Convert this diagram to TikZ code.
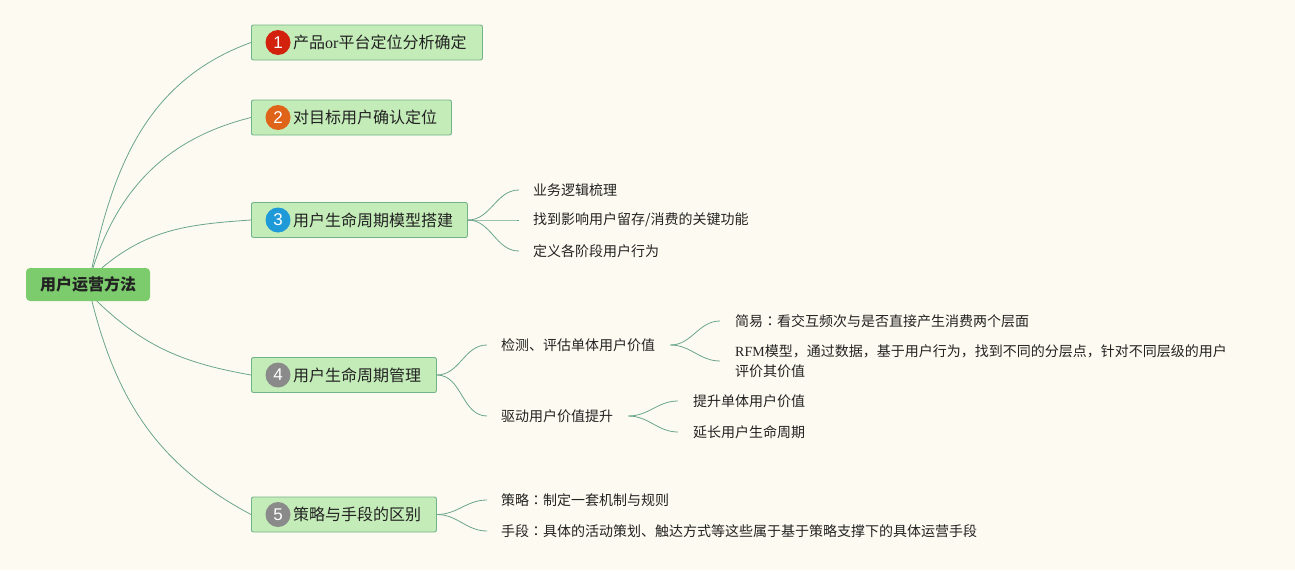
\documentclass[tikz,border=0pt]{standalone}
\usepackage{fontspec}
\setmainfont{Noto Sans CJK SC}
\newfontfamily\tcfont{Noto Sans CJK TC}
\newfontfamily\rmlatin{Liberation Serif}
\newfontfamily\numfont{Liberation Sans}
\newcommand\fcolon{{\tcfont ：}}
\definecolor{bg}{HTML}{FDFBF1}
\definecolor{ink}{HTML}{222222}
\definecolor{boxfill}{HTML}{C4ECB8}
\definecolor{boxline}{HTML}{72B38A}
\definecolor{rootfill}{HTML}{7CCB6C}
\definecolor{linkc}{HTML}{6AA58B}
\definecolor{red1}{HTML}{D2220E}
\definecolor{orange1}{HTML}{E0631A}
\definecolor{blue1}{HTML}{1E9AD8}
\definecolor{gray1}{HTML}{8A8A8A}
\tikzset{
  topic/.style={draw=boxline, fill=boxfill, line width=0.9pt, rounded corners=2pt, minimum height=35pt, anchor=west, inner sep=0pt},
  badge/.style={circle, fill=#1, minimum size=25pt, inner sep=0pt, text=white, font=\numfont\fontsize{17}{17}\selectfont},
  tlabel/.style={anchor=west, inner sep=0pt, text=ink, font=\fontsize{16}{19}\selectfont},
  leaf/.style={anchor=west, inner sep=0pt, text=ink, align=left, font=\fontsize{14}{20}\selectfont},
  link/.style={draw=linkc, line width=0.8pt},
}
\begin{document}
\begin{tikzpicture}[x=1pt,y=-1pt]
\fill[bg] (0,0) rectangle (1295,570);
% root
\node[fill=rootfill, rounded corners=4pt, minimum width=124pt, minimum height=33pt, text=ink, font=\bfseries\fontsize{16}{19}\selectfont] (root) at (88,284.5) {用户运营方法};
% main topics
\node[topic, minimum width=231pt] (t1) at (251,42.5) {};
\node[badge=red1] (b1) at (278,42.5) {1};
\node[tlabel] (l1) at (293,42.5) {产品{\rmlatin or}平台定位分析确定};
\node[topic, minimum width=200pt] (t2) at (251,117.5) {};
\node[badge=orange1] (b2) at (278,117.5) {2};
\node[tlabel] (l2) at (293,117.5) {对目标用户确认定位};
\node[topic, minimum width=216pt] (t3) at (251,220) {};
\node[badge=blue1] (b3) at (278,220) {3};
\node[tlabel] (l3) at (293,220) {用户生命周期模型搭建};
\node[topic, minimum width=185pt] (t4) at (251,375) {};
\node[badge=gray1] (b4) at (278,375) {4};
\node[tlabel] (l4) at (293,375) {用户生命周期管理};
\node[topic, minimum width=185pt] (t5) at (251,514.5) {};
\node[badge=gray1] (b5) at (278,514.5) {5};
\node[tlabel] (l5) at (293,514.5) {策略与手段的区别};
\draw[link] ([xshift=4pt]root.north) to[out=78,in=200] (t1.west);
\draw[link] ([xshift=5pt]root.north) to[out=72,in=194] (t2.west);
\draw[link] ([xshift=14pt]root.north) to[out=40,in=184] (t3.west);
\draw[link] ([xshift=9pt]root.south) to[out=-44,in=170] (t4.west);
\draw[link] ([xshift=4pt]root.south) to[out=-76,in=152] (t5.west);
% subtopics
\node[leaf] (s31) at (533,190) {业务逻辑梳理};
\node[leaf] (s32) at (533,220) {找到影响用户留存/消费的关键功能};
\node[leaf] (s33) at (533,251) {定义各阶段用户行为};
\foreach \s in {s31,s32,s33}
  \draw[link] (t3.east) to[out=0,in=180] ([xshift=-14pt]\s.west);
\node[leaf] (s41) at (501,345) {检测、评估单体用户价值};
\node[leaf] (s42) at (501,416) {驱动用户价值提升};
\foreach \s in {s41,s42}
  \draw[link] (t4.east) to[out=0,in=180] ([xshift=-14pt]\s.west);
\node[leaf] (s411) at (735,321) {简易\fcolon 看交互频次与是否直接产生消费两个层面};
\node[leaf] (s412) at (735,361) {{\rmlatin RFM}模型，通过数据，基于用户行为，找到不同的分层点，针对不同层级的用户\\评价其价值};
\foreach \s in {s411,s412}
  \draw[link] ([xshift=15pt]s41.east) to[out=0,in=180] ([xshift=-15pt]\s.west);
\node[leaf] (s421) at (693,401) {提升单体用户价值};
\node[leaf] (s422) at (693,432) {延长用户生命周期};
\foreach \s in {s421,s422}
  \draw[link] ([xshift=15pt]s42.east) to[out=0,in=180] ([xshift=-15pt]\s.west);
\node[leaf] (s51) at (501,500) {策略\fcolon 制定一套机制与规则};
\node[leaf] (s52) at (501,531) {手段\fcolon 具体的活动策划、触达方式等这些属于基于策略支撑下的具体运营手段};
\foreach \s in {s51,s52}
  \draw[link] (t5.east) to[out=0,in=180] ([xshift=-14pt]\s.west);
\end{tikzpicture}
\end{document}
